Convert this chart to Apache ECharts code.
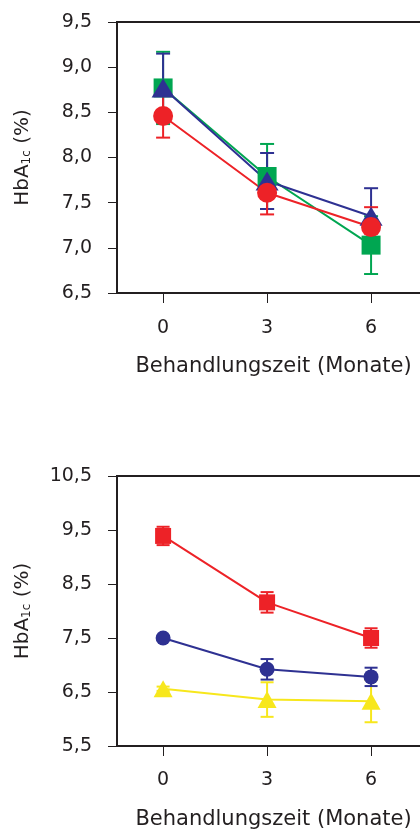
<!DOCTYPE html>
<html>
<head>
<meta charset="utf-8">
<script src="https://cdn.jsdelivr.net/npm/echarts@6/dist/echarts.min.js"></script>
<style>
  html, body { margin: 0; padding: 0; background: #fff; }
  #main { width: 420px; height: 832px; }
</style>
</head>
<body>
<div id="main"></div>
<script>
// x: Behandlungszeit in Monaten
var months = [0, 3, 6];

// oberes Diagramm
var topTicks = [6.5, 7.0, 7.5, 8.0, 8.5, 9.0, 9.5];
var topGreen = [8.77, 7.79, 7.03];
var topGreenErr = [0.40, 0.36, 0.32];
var topBlue = [8.77, 7.74, 7.35];
var topBlueErr = [0.38, 0.31, 0.31];
var topRed = [8.46, 7.61, 7.23];
var topRedErr = [0.24, 0.24, 0.22];

// unteres Diagramm
var bottomTicks = [5.5, 6.5, 7.5, 8.5, 9.5, 10.5];
var bottomRed = [9.39, 8.16, 7.50];
var bottomRedErr = [0.17, 0.19, 0.18];
var bottomBlue = [7.50, 6.92, 6.78];
var bottomBlueErr = [0.03, 0.19, 0.17];
var bottomYellow = [6.56, 6.36, 6.33];
var bottomYellowErr = [0.04, 0.32, 0.39];

var ink = '#231f20';
var font = 'DejaVu Sans';
var RED = '#ed2227', BLUE = '#2e3192', GREEN = '#00a651', YELLOW = '#f7e71c';

var chart = echarts.init(document.getElementById('main'), null, { renderer: 'canvas' });

function comma(v) {
  return v.toFixed(1).replace('.', ',');
}

function errorBars(idx, vals, errs, color, capW) {
  return {
    type: 'custom',
    xAxisIndex: idx,
    yAxisIndex: idx,
    silent: true,
    encode: { x: 0, y: [1, 2] },
    data: months.map(function (m, i) { return [m, vals[i] - errs[i], vals[i] + errs[i]]; }),
    renderItem: function (params, api) {
      var lo = api.coord([api.value(0), api.value(1)]);
      var hi = api.coord([api.value(0), api.value(2)]);
      var h = capW / 2;
      var st = { stroke: color, lineWidth: 2 };
      return {
        type: 'group',
        children: [
          { type: 'line', shape: { x1: hi[0], y1: hi[1], x2: lo[0], y2: lo[1] }, style: st },
          { type: 'line', shape: { x1: hi[0] - h, y1: hi[1], x2: hi[0] + h, y2: hi[1] }, style: st },
          { type: 'line', shape: { x1: lo[0] - h, y1: lo[1], x2: lo[0] + h, y2: lo[1] }, style: st }
        ]
      };
    }
  };
}

function lineSeries(idx, vals, color, symbol, size) {
  return {
    type: 'line',
    xAxisIndex: idx,
    yAxisIndex: idx,
    data: months.map(function (m, i) { return [m, vals[i]]; }),
    symbol: symbol,
    symbolSize: size,
    showAllSymbol: true,
    lineStyle: { color: color, width: 2 },
    itemStyle: { color: color, opacity: 1 },
    emphasis: { disabled: true },
    animation: false
  };
}

function xAxis(idx, labelMargin) {
  return {
    gridIndex: idx,
    type: 'value',
    min: -1.33,
    max: 7.7,
    axisLine: { show: true, onZero: false, lineStyle: { color: ink, width: 2 } },
    axisTick: { show: true, length: 10, customValues: months, lineStyle: { color: ink, width: 1 } },
    axisLabel: { customValues: months, margin: labelMargin, fontSize: 19, color: ink, fontFamily: font },
    splitLine: { show: false },
    name: 'Behandlungszeit (Monate)',
    nameLocation: 'middle',
    nameGap: 63,
    nameTextStyle: { fontSize: 21, color: ink, fontFamily: font }
  };
}

function yAxis(idx, ticks) {
  return {
    gridIndex: idx,
    type: 'value',
    min: ticks[0],
    max: ticks[ticks.length - 1],
    axisLine: { show: true, onZero: false, lineStyle: { color: ink, width: 2 } },
    axisTick: { show: true, length: 9, customValues: ticks, lineStyle: { color: ink, width: 1 } },
    axisLabel: {
      customValues: ticks, margin: 25, fontSize: 19, color: ink, fontFamily: font,
      formatter: function (v) { return comma(v); }
    },
    splitLine: { show: false },
    name: '{m|HbA}{s|1c}{m| (%)}',
    nameLocation: 'middle',
    nameGap: 84,
    nameTextStyle: {
      rich: {
        m: { fontSize: 20, color: ink, fontFamily: font },
        s: { fontSize: 12, color: ink, fontFamily: font, verticalAlign: 'bottom' }
      }
    }
  };
}

var option = {
  animation: false,
  grid: [
    { left: 117, top: 22, height: 271, width: 313, outerBoundsMode: 'none', show: true, borderColor: ink, borderWidth: 2 },
    { left: 117, top: 476, height: 270, width: 313, outerBoundsMode: 'none', show: true, borderColor: ink, borderWidth: 2 }
  ],
  xAxis: [xAxis(0, 26), xAxis(1, 25)],
  yAxis: [yAxis(0, topTicks), yAxis(1, bottomTicks)],
  series: [
    errorBars(0, topGreen, topGreenErr, GREEN, 14),
    errorBars(0, topBlue, topBlueErr, BLUE, 14),
    errorBars(0, topRed, topRedErr, RED, 14),
    lineSeries(0, topGreen, GREEN, 'rect', 19),
    lineSeries(0, topBlue, BLUE, 'triangle', [23, 19]),
    lineSeries(0, topRed, RED, 'circle', 20),

    errorBars(1, bottomYellow, bottomYellowErr, YELLOW, 13),
    errorBars(1, bottomBlue, bottomBlueErr, BLUE, 13),
    errorBars(1, bottomRed, bottomRedErr, RED, 13),
    lineSeries(1, bottomYellow, YELLOW, 'triangle', [19, 17]),
    lineSeries(1, bottomBlue, BLUE, 'circle', 15),
    lineSeries(1, bottomRed, RED, 'rect', 16)
  ]
};

chart.setOption(option);
</script>
</body>
</html>
